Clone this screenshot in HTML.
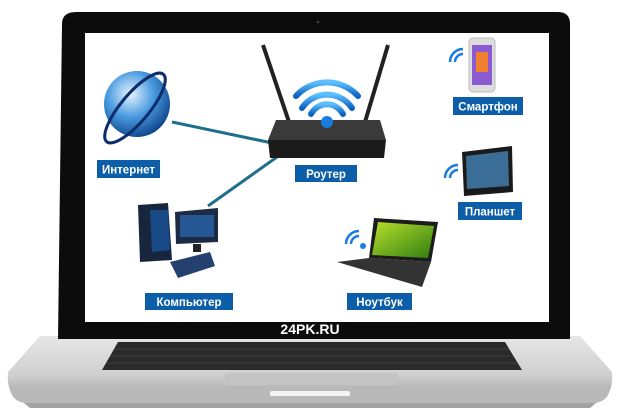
<!DOCTYPE html>
<html><head><meta charset="utf-8"><style>
html,body{margin:0;padding:0;background:#fff;width:620px;height:416px;overflow:hidden}
svg{display:block}
.lbl{font-family:"Liberation Sans",sans-serif;font-weight:bold;font-size:11.5px;fill:#fff}
</style></head><body>
<svg width="620" height="416" viewBox="0 0 620 416" xmlns="http://www.w3.org/2000/svg">
<defs>
<linearGradient id="base" x1="0" y1="0" x2="0" y2="1">
<stop offset="0" stop-color="#e6e6e6"/><stop offset="0.6" stop-color="#cfcfcf"/><stop offset="1" stop-color="#9a9a9a"/>
</linearGradient>
<radialGradient id="globe" cx="0.4" cy="0.35" r="0.7">
<stop offset="0" stop-color="#e8f4ff"/><stop offset="0.5" stop-color="#4a9be0"/><stop offset="1" stop-color="#0b3f86"/>
</radialGradient>
<linearGradient id="wifi" x1="0" y1="0" x2="0" y2="1"><stop offset="0" stop-color="#5cc0ff"/><stop offset="1" stop-color="#0d62c4"/></linearGradient>
<linearGradient id="green" x1="0" y1="0" x2="1" y2="1"><stop offset="0" stop-color="#b8e02c"/><stop offset="1" stop-color="#2f7d10"/></linearGradient>
</defs>
<path d="M40 336 L580 336 L612 372 Q614 398 596 402 L24 402 Q6 398 8 372 Z" fill="url(#base)"/>
<path d="M10 386 L610 386 Q610 400 596 403 L24 403 Q10 400 10 386 Z" fill="#b9b9b9"/>
<path d="M24 403 L596 403 L590 408 L30 408 Z" fill="#666" opacity="0.6"/>
<path d="M118 342 L505 342 L522 370 L102 370 Z" fill="#2a2a2a"/>
<g stroke="#555" stroke-width="0.6">
<line x1="114" y1="349" x2="509" y2="349"/><line x1="110" y1="356" x2="513" y2="356"/><line x1="106" y1="363" x2="518" y2="363"/>
</g>
<rect x="225" y="373" width="173" height="12" fill="#c4c4c4"/>
<rect x="270" y="391" width="80" height="5" rx="2" fill="#f4f4f4"/>
<path d="M62 24 Q62 12 76 12 L558 12 Q570 12 570 24 L570 339 L58 339 Z" fill="#0c0c0c"/>
<rect x="85" y="33" width="464" height="289" fill="#fff"/>
<circle cx="318" cy="22" r="1.3" fill="#444"/>
<text x="310" y="334" text-anchor="middle" font-family="Liberation Sans,sans-serif" font-weight="bold" font-size="14" fill="#fff">24PK.RU</text>
<line x1="172" y1="122" x2="272" y2="143" stroke="#1f6f8c" stroke-width="3"/>
<line x1="277" y1="157" x2="208" y2="206" stroke="#1f6f8c" stroke-width="3"/>
<circle cx="137" cy="104" r="33" fill="url(#globe)"/>
<ellipse cx="135" cy="108" rx="44" ry="14" transform="rotate(-50 135 108)" fill="none" stroke="#0c2c6a" stroke-width="3"/>
<line x1="263" y1="45" x2="289" y2="122" stroke="#222" stroke-width="4"/>
<line x1="388" y1="45" x2="365" y2="122" stroke="#222" stroke-width="4"/>
<path d="M276 120 L380 120 L386 140 L268 140 Z" fill="#3a3a3a"/>
<path d="M268 140 L386 140 L384 158 L270 158 Z" fill="#1b1b1b"/>
<g fill="none" stroke="url(#wifi)" stroke-width="6" stroke-linecap="round">
<path d="M302 108 A30 30 0 0 1 352 108"/><path d="M311 114 A18 18 0 0 1 343 114"/><path d="M296 96 A42 42 0 0 1 358 96"/>
</g>
<circle cx="327" cy="122" r="6" fill="#1a7be0"/>
<g fill="none" stroke="#1a7be0" stroke-width="2.5"><path d="M455 62 A8 8 0 0 1 463 54"/><path d="M450 62 A13 13 0 0 1 463 49"/></g>
<rect x="469" y="38" width="26" height="54" rx="4" fill="#ddd" stroke="#bbb"/>
<rect x="472" y="45" width="20" height="40" fill="#8a5ad0"/>
<rect x="476" y="52" width="12" height="20" fill="#f08030"/>
<g fill="none" stroke="#1a7be0" stroke-width="2.5"><path d="M450 178 A8 8 0 0 1 458 170"/><path d="M445 178 A13 13 0 0 1 458 165"/></g>
<path d="M462 152 L512 146 L513 192 L464 196 Z" fill="#1a1a1a"/>
<path d="M466 156 L508 151 L509 186 L467 189 Z" fill="#3b6e96"/>
<path d="M138 205 L168 203 L172 260 L140 262 Z" fill="#17263c"/>
<path d="M150 210 L168 210 L170 250 L152 252 Z" fill="#1b5aa8" opacity="0.7"/>
<path d="M175 212 L218 208 L218 242 L176 244 Z" fill="#1c2a44"/>
<rect x="180" y="215" width="34" height="22" fill="#2a6cb8" opacity="0.7"/>
<rect x="193" y="244" width="8" height="8" fill="#222"/>
<path d="M170 262 L210 252 L215 266 L178 278 Z" fill="#23406e"/>
<g fill="none" stroke="#1a7be0" stroke-width="2.5"><path d="M351 244 A8 8 0 0 1 359 236"/><path d="M346 244 A13 13 0 0 1 359 231"/></g>
<circle cx="363" cy="246" r="3" fill="#1a7be0"/>
<path d="M374 218 L438 222 L431 262 L369 258 Z" fill="#1c1c1c"/>
<path d="M378 222 L434 226 L428 258 L372 255 Z" fill="url(#green)"/>
<path d="M369 258 L431 262 L422 287 L337 262 Z" fill="#333"/>
<rect x="97" y="160" width="63" height="18" fill="#0d5ea8"/><text class="lbl" x="128.5" y="173.5" text-anchor="middle">Интернет</text>
<rect x="295" y="165" width="62" height="17" fill="#0d5ea8"/><text class="lbl" x="326" y="178" text-anchor="middle">Роутер</text>
<rect x="453" y="97" width="70" height="18" fill="#0d5ea8"/><text class="lbl" x="488" y="110.5" text-anchor="middle">Смартфон</text>
<rect x="458" y="202" width="64" height="18" fill="#0d5ea8"/><text class="lbl" x="490" y="215.5" text-anchor="middle">Планшет</text>
<rect x="145" y="293" width="88" height="17" fill="#0d5ea8"/><text class="lbl" x="189" y="306" text-anchor="middle">Компьютер</text>
<rect x="347" y="293" width="65" height="17" fill="#0d5ea8"/><text class="lbl" x="379.5" y="306" text-anchor="middle">Ноутбук</text>
</svg>
</body></html>
